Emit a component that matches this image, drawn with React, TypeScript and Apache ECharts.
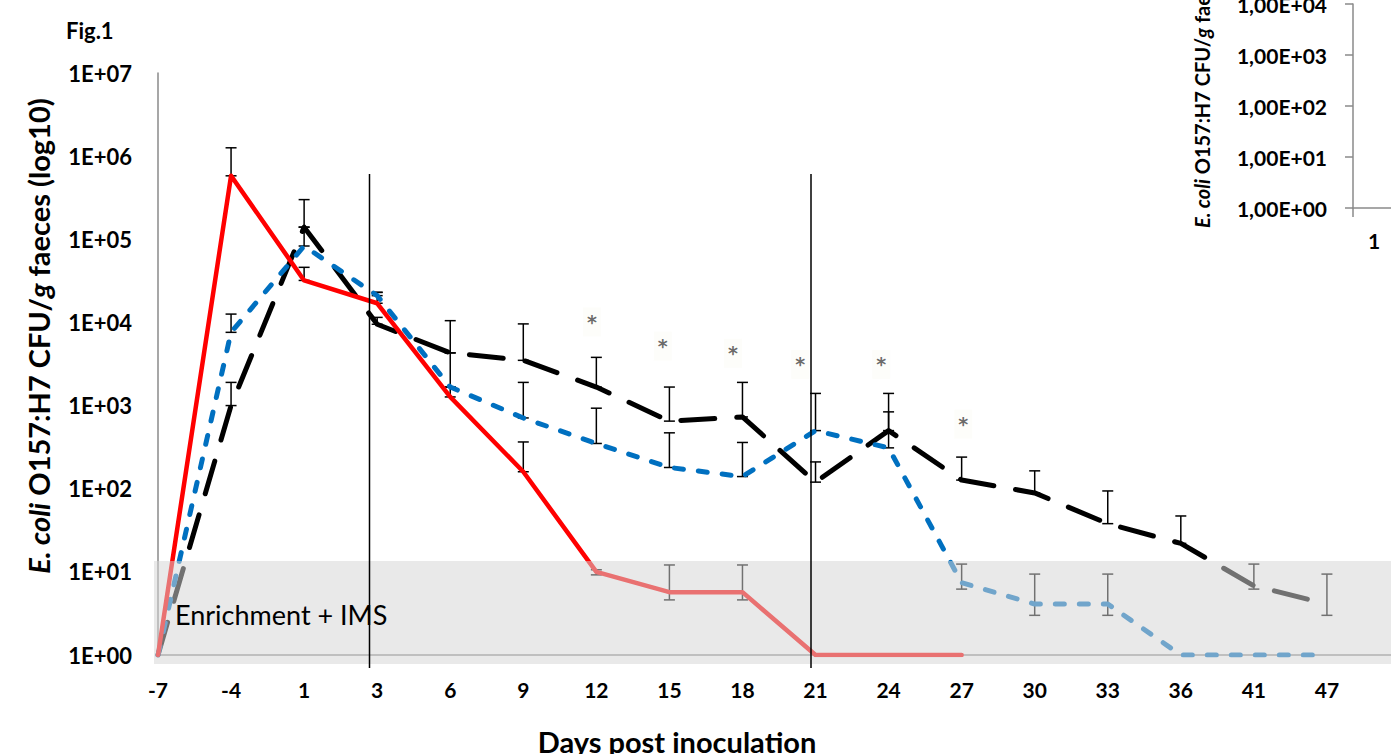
import React, { useEffect, useRef } from "react";
import * as echarts from "echarts";

// ---- data ----
const days = ["-7", "-4", "1", "3", "6", "9", "12", "15", "18", "21", "24", "27", "30", "33", "36", "41", "47"];

const redValues = [1, 5.8e5, 3.2e4, 1.7e4, 1.27e3, 160, 10, 5.7, 5.7, 1, 1, 1, null, null, null, null, null];
const redErrLow = [null, 5.8e5, 3.2e4, 1.7e4, 1.27e3, 160, 9.2, 4.6, 4.6, null, null, null, null, null, null, null, null];
const redErrHigh = [null, 1.26e6, 4.6e4, 2.3e4, 1.67e3, 365, 10.6, 12.1, 12.1, null, null, null, null, null, null, null, null];

const blueValues = [1, 7.6e3, 8.3e4, 2.1e4, 1.67e3, 710, 350, 180, 140, 500, 310, 7.4, 4.1, 4.1, 1, 1, 1];
const blueErrLow = [null, 7.6e3, 8.3e4, 2.1e4, 1.67e3, 710, 350, 180, 140, 500, 310, 6.2, 3.0, 3.0, null, null, null];
const blueErrHigh = [null, 1.26e4, 1.4e5, 2.3e4, 4.3e3, 1.9e3, 930, 470, 360, 1.4e3, 840, 12.4, 9.4, 9.4, null, null, null];

const blackValues = [1, 1.0e3, 1.4e5, 9.5e3, 4.3e3, 3.5e3, 1.67e3, 650, 730, 120, 500, 127, 89, 38, 22, 6.8, 4.1];
const blackErrLow = [null, 1.0e3, 1.4e5, 9.5e3, 4.3e3, 3.5e3, 1.67e3, 650, 730, 120, 500, 127, 89, 38, 22, 6.2, 3.0];
const blackErrHigh = [null, 1.9e3, 3.0e5, 1.15e4, 1.05e4, 9.6e3, 3.8e3, 1.67e3, 1.9e3, 210, 1.4e3, 240, 164, 94, 47, 12.4, 9.4];

// significance asterisks (position on the day axis, height)
const asteriskX = [5.94, 6.91, 7.87, 8.79, 9.9, 11.02];
const asteriskY = [1.07e4, 5.5e3, 4.5e3, 3.3e3, 3.3e3, 630];

const insetCategories = ["1"];

const FONT = "Lato";

function lineData(vals: (number | null)[]) {
  return vals.map((v, i) => [i, v]);
}

function errData(lo: (number | null)[], hi: (number | null)[]) {
  const out: number[][] = [];
  lo.forEach((l, i) => {
    const h = hi[i];
    if (l != null && h != null) out.push([i, l, h]);
  });
  return out;
}

export default function App() {
  const ref = useRef<HTMLDivElement>(null);

  useEffect(() => {
    if (!ref.current) return;
    const chart = echarts.init(ref.current, null, { renderer: "svg" });

    const errAll = [
      ...errData(redErrLow, redErrHigh),
      ...errData(blueErrLow, blueErrHigh),
      ...errData(blackErrLow, blackErrHigh),
    ];

    const logLabel = (v: number) => {
      const e = Math.round(Math.log10(v));
      return "1E+" + (e < 10 ? "0" + e : String(e));
    };
    const logLabelComma = (v: number) => {
      const e = Math.round(Math.log10(v));
      return "1,00E+" + (e < 10 ? "0" + e : String(e));
    };

    const option: any = {
      animation: false,
      backgroundColor: "#ffffff",
      grid: [
        { left: 158, top: 73, right: 0, bottom: 99, containLabel: false, outerBoundsMode: "none" },
        { left: 1353, top: 4, width: 42, height: 204, containLabel: false, outerBoundsMode: "none" },
      ],
      xAxis: [
        {
          type: "value",
          gridIndex: 0,
          min: 0,
          max: 16.877,
          interval: 1,
          axisLine: { show: true, lineStyle: { color: "#8a8a8a", width: 1.5 } },
          axisTick: { show: false },
          splitLine: { show: false },
          axisLabel: {
            margin: 24,
            fontFamily: FONT,
            fontWeight: "bold",
            fontSize: 21,
            color: "#000",
            formatter: (v: number) => {
              const r = Math.round(v);
              return Math.abs(v - r) < 1e-6 && days[r] !== undefined ? days[r] : "";
            },
          },
        },
        {
          type: "category",
          gridIndex: 1,
          data: insetCategories,
          boundaryGap: true,
          axisLine: { show: true, lineStyle: { color: "#8a8a8a", width: 1.5 } },
          axisTick: { show: true, length: 9, lineStyle: { color: "#8a8a8a", width: 1.5 } },
          axisLabel: { margin: 22, fontFamily: FONT, fontWeight: "bold", fontSize: 21, color: "#000" },
        },
      ],
      yAxis: [
        {
          type: "log",
          gridIndex: 0,
          logBase: 10,
          min: 1,
          max: 1e7,
          splitNumber: 7,
          axisLine: { show: true, lineStyle: { color: "#8a8a8a", width: 1.5 } },
          axisTick: { show: false },
          splitLine: { show: false },
          minorTick: { show: false },
          axisLabel: {
            margin: 26,
            fontFamily: FONT,
            fontWeight: "bold",
            fontSize: 22,
            color: "#000",
            formatter: logLabel,
          },
        },
        {
          type: "log",
          gridIndex: 1,
          logBase: 10,
          min: 1,
          max: 1e4,
          splitNumber: 4,
          axisLine: { show: true, lineStyle: { color: "#8a8a8a", width: 1.5 } },
          axisTick: { show: true, length: 8, lineStyle: { color: "#8a8a8a", width: 1.5 } },
          splitLine: { show: false },
          axisLabel: {
            margin: 26,
            fontFamily: FONT,
            fontWeight: "bold",
            fontSize: 21,
            color: "#000",
            formatter: logLabelComma,
          },
        },
      ],
      series: [
        {
          name: "error bars",
          type: "custom",
          xAxisIndex: 0,
          yAxisIndex: 0,
          z: 1,
          clip: false,
          data: errAll,
          encode: { x: 0, y: [1, 2] },
          renderItem: (params: any, api: any) => {
            const x = api.value(0);
            const lo = api.coord([x, api.value(1)]);
            const hi = api.coord([x, api.value(2)]);
            const w = 5.5;
            const st = { stroke: "#000", lineWidth: 1.5 };
            return {
              type: "group",
              children: [
                { type: "line", shape: { x1: lo[0], y1: lo[1], x2: hi[0], y2: hi[1] }, style: st },
                { type: "line", shape: { x1: hi[0] - w, y1: hi[1], x2: hi[0] + w, y2: hi[1] }, style: st },
                { type: "line", shape: { x1: lo[0] - w, y1: lo[1], x2: lo[0] + w, y2: lo[1] }, style: st },
              ],
            };
          },
        },
        {
          name: "Group 1",
          type: "line",
          data: lineData(blackValues),
          showSymbol: false,
          symbol: "none",
          z: 3,
          lineStyle: { color: "#000000", width: 5, type: [34, 22], cap: "round", join: "round" },
        },
        {
          name: "Group 2",
          type: "line",
          data: lineData(blueValues),
          showSymbol: false,
          symbol: "none",
          z: 4,
          lineStyle: { color: "#0070C0", width: 5, type: [9, 15], cap: "round", join: "round" },
        },
        {
          name: "Group 3",
          type: "line",
          data: lineData(redValues),
          showSymbol: false,
          symbol: "none",
          connectNulls: false,
          z: 5,
          lineStyle: { color: "#FF0000", width: 4.5, type: "solid", cap: "round", join: "round" },
        },
        {
          name: "significance",
          type: "scatter",
          data: asteriskX.map((x, i) => [x, asteriskY[i]]),
          symbolSize: 1,
          itemStyle: { color: "rgba(0,0,0,0)" },
          z: 6,
          label: {
            show: true,
            position: "inside",
            formatter: "*",
            fontFamily: "DejaVu Sans",
            fontWeight: "bold",
            fontSize: 19,
            color: "#444444",
            backgroundColor: "#fcfcf9",
            padding: [6, 4, 4, 4],
            offset: [0, 2],
          },
        },
        {
          name: "inset",
          type: "line",
          xAxisIndex: 1,
          yAxisIndex: 1,
          data: [],
        },
      ],
      graphic: [
        {
          type: "rect",
          z: 50,
          silent: true,
          shape: { x: 154, y: 561, width: 1240, height: 103 },
          style: { fill: "rgba(213,213,213,0.53)" },
        },
        {
          type: "line",
          z: 60,
          shape: { x1: 369.5, y1: 174, x2: 369.5, y2: 668 },
          style: { stroke: "#000", lineWidth: 1.5 },
        },
        {
          type: "line",
          z: 60,
          shape: { x1: 811, y1: 174, x2: 811, y2: 668 },
          style: { stroke: "#000", lineWidth: 1.5 },
        },
        {
          type: "text",
          z: 60,
          x: 175,
          y: 614,
          style: {
            text: "Enrichment + IMS",
            fontFamily: FONT,
            fontSize: 27,
            fill: "#000",
            textAlign: "left",
            textVerticalAlign: "middle",
            align: "left",
            verticalAlign: "middle",
          },
        },
        {
          type: "text",
          z: 60,
          x: 66,
          y: 30,
          style: {
            text: "Fig.1",
            fontFamily: FONT,
            fontWeight: "bold",
            fontSize: 22,
            fill: "#000",
            textAlign: "left",
            textVerticalAlign: "middle",
            align: "left",
            verticalAlign: "middle",
          },
        },
        {
          type: "text",
          z: 60,
          x: 677,
          y: 741,
          style: {
            text: "Days post inoculation",
            fontFamily: FONT,
            fontWeight: "bold",
            fontSize: 29,
            fill: "#000",
            textAlign: "center",
            textVerticalAlign: "middle",
            align: "center",
            verticalAlign: "middle",
          },
        },
        {
          type: "text",
          z: 60,
          x: 38,
          y: 336,
          rotation: Math.PI / 2,
          style: {
            text: "{i|E. coli} O157:H7 CFU/{i|g} faeces (log10)",
            fontFamily: FONT,
            fontWeight: "bold",
            fontSize: 29,
            fill: "#000",
            textAlign: "center",
            textVerticalAlign: "middle",
            align: "center",
            verticalAlign: "middle",
            rich: {
              i: { fontFamily: FONT, fontWeight: "bold", fontStyle: "italic", fontSize: 29, fill: "#000" },
            },
          },
        },
        {
          type: "text",
          z: 60,
          x: 1202,
          y: 228,
          rotation: Math.PI / 2,
          style: {
            text: "{i|E. coli} O157:H7 CFU/{i|g} faeces (log10)",
            fontFamily: FONT,
            fontWeight: "bold",
            fontSize: 20,
            fill: "#000",
            textAlign: "left",
            textVerticalAlign: "middle",
            align: "left",
            verticalAlign: "middle",
            rich: {
              i: { fontFamily: FONT, fontWeight: "bold", fontStyle: "italic", fontSize: 20, fill: "#000" },
            },
          },
        },
      ],
    };

    chart.setOption(option);
    return () => {
      chart.dispose();
    };
  }, []);

  return (
    <div
      ref={ref}
      style={{ position: "absolute", left: 0, top: 0, width: 1391, height: 754, background: "#fff" }}
    />
  );
}
